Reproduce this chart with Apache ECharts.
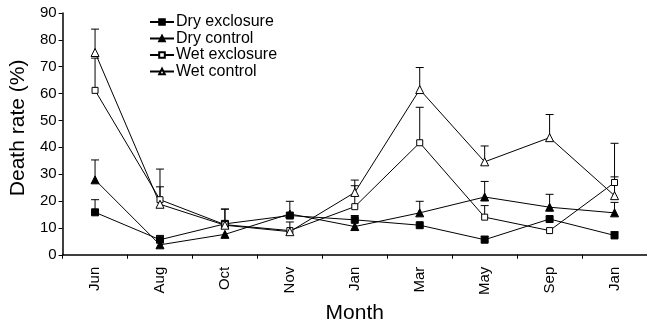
<!DOCTYPE html>
<html><head><meta charset="utf-8">
<script src="https://cdn.jsdelivr.net/npm/echarts@6/dist/echarts.min.js"></script>
<style>html,body{margin:0;padding:0;background:#fff}#c{width:647px;height:329px}</style>
</head><body><div id="c"></div>
<script>
var months = ['Jun','Aug','Oct','Nov','Jan','Mar','May','Sep','Jan'];
var dryExclosure = [15.8, 5.6, 11.5, 14.6, 13.0, 11.0, 5.6, 13.3, 7.2];
var dryExclosureErr = [4.7, 1.6, 5.5, 5.3, 1.6, 0, 1.3, 0, 1.4];
var dryControl = [27.9, 3.7, 7.6, 15.2, 10.5, 15.6, 21.5, 17.7, 15.6];
var dryControlErr = [7.4, 2.5, 0, 0, 0, 4.3, 5.8, 4.8, 3.9];
var wetExclosure = [61.2, 20.5, 11.2, 9.0, 17.9, 41.7, 14.0, 9.0, 26.9];
var wetExclosureErr = [12.0, 11.4, 5.8, 3.2, 7.8, 13.2, 4.3, 0, 14.6];
var wetControl = [75.3, 18.8, 11.0, 8.6, 23.2, 61.5, 34.6, 43.6, 22.0];
var wetControlErr = [8.7, 6.5, 0, 0, 4.6, 8.2, 5.9, 8.6, 7.0];

var FONT = 'Liberation Sans, Arial, sans-serif';
function errSeries(vals, errs) {
  var data = vals.map(function (v, i) { return [i, v, v + errs[i]]; });
  return {
    type: 'custom', silent: true, z: 1,
    data: data,
    renderItem: function (params, api) {
      var e = api.value(2), v = api.value(1);
      if (e - v < 0.05) return null;
      var p0 = api.coord([api.value(0), v]);
      var p1 = api.coord([api.value(0), e]);
      var st = { stroke: '#000', lineWidth: 1 };
      return { type: 'group', children: [
        { type: 'line', shape: { x1: p0[0], y1: p0[1], x2: p1[0], y2: p1[1] }, style: st },
        { type: 'line', shape: { x1: p1[0] - 4, y1: p1[1], x2: p1[0] + 4, y2: p1[1] }, style: st }
      ]};
    }
  };
}
function lineSeries(name, vals, symbol, filled, size) {
  return {
    name: name, type: 'line', data: vals, z: 3,
    symbol: symbol, symbolSize: size, showSymbol: true,
    lineStyle: { color: '#000', width: 1 },
    itemStyle: { color: filled ? '#000' : '#fff', borderColor: '#000', borderWidth: 1 },
    emphasis: { disabled: true }
  };
}
var chart = echarts.init(document.getElementById('c'));
chart.setOption({
  animation: false,
  grid: { left: 62, right: 0, top: 13, bottom: 73 },
  legend: {
    orient: 'vertical', left: 149, top: 14, itemGap: 0.5, itemWidth: 24, itemHeight: 7,
    padding: 0,
    textStyle: { fontFamily: FONT, fontSize: 16, color: '#000', lineHeight: 16, padding: [0, 0, 0, -3] },
    data: ['Dry exclosure', 'Dry control', 'Wet exclosure', 'Wet control']
  },
  xAxis: {
    type: 'category', data: months, boundaryGap: true,
    name: 'Month', nameLocation: 'middle', nameGap: 46,
    nameTextStyle: { fontFamily: FONT, fontSize: 21, color: '#000' },
    axisLine: { lineStyle: { color: '#000', width: 1.5 } },
    axisTick: { show: true, length: 4, lineStyle: { color: '#000', width: 1 } },
    axisLabel: { rotate: 90, margin: 12, fontFamily: FONT, fontSize: 15, color: '#000' }
  },
  yAxis: {
    type: 'value', min: 0, max: 90, interval: 10,
    name: 'Death rate (%)', nameLocation: 'middle', nameGap: 31,
    nameTextStyle: { fontFamily: FONT, fontSize: 21, color: '#000', padding: [0, 0, 0, 12] },
    axisLine: { show: true, lineStyle: { color: '#000', width: 1.5 } },
    axisTick: { show: true, length: 4, lineStyle: { color: '#000', width: 1 } },
    splitLine: { show: false },
    axisLabel: { margin: 6, fontFamily: FONT, fontSize: 15, color: '#000' }
  },
  series: [
    errSeries(dryExclosure, dryExclosureErr),
    errSeries(dryControl, dryControlErr),
    errSeries(wetExclosure, wetExclosureErr),
    errSeries(wetControl, wetControlErr),
    lineSeries('Dry exclosure', dryExclosure, 'rect', true, 7),
    lineSeries('Dry control', dryControl, 'triangle', true, 8),
    lineSeries('Wet exclosure', wetExclosure, 'rect', false, 6),
    lineSeries('Wet control', wetControl, 'triangle', false, 8)
  ]
});
</script></body></html>
